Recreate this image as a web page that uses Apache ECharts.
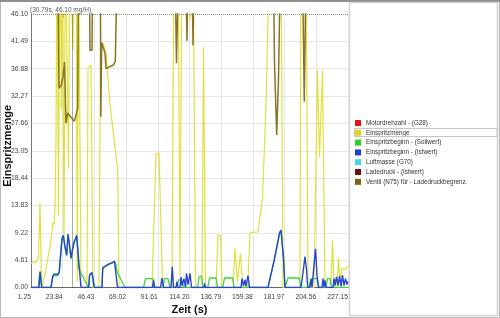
<!DOCTYPE html>
<html><head><meta charset="utf-8">
<script src="https://cdn.jsdelivr.net/npm/echarts/dist/echarts.min.js"></script>
<style>html,body{margin:0;padding:0;background:#fff;}#c{width:500px;height:318px;}</style>
</head><body><div id="c"></div>
<script>
// ---- data (time in s, value) ----
const xTickLabels = ['1.25','23.84','46.43','69.02','91.61','114.20','136.79','159.38','181.97','204.56','227.15'];
const yTickLabels = ['0.00','4.61','9.22','13.83','18.44','23.05','27.66','32.27','36.88','41.49','46.10'];
const legendNames = ['Motordrehzahl - (G28)','Einspritzmenge','Einspritzbeginn - (Sollwert)','Einspritzbeginn - (Istwert)','Luftmasse (G70)','Ladedruck - (Istwert)','Ventil (N75) für - Ladedruckbegrenz.'];
const cursorTime = 30.79;
const cursorValue = 46.10;

const motordrehzahl = [[22.9,47],[23.9,45.4],[24.7,45.9],[25.3,47]];
const einspritzmenge = [[1.25,4.1],[2.68,4.3],[3.39,4.6],[4.46,4.2],[5.53,4.4],[6.59,5.0],[7.66,14.3],[8.73,1.0],[9.44,0.3],[10.16,1.2],[12.65,4.0],[15.5,8.0],[16.93,11.0],[17.64,10.6],[18.35,13.2],[19.07,25],[19.78,60],[20.85,12],[21.92,60],[22.98,30],[23.7,60],[24.77,8],[25.83,60],[26.9,60],[27.97,20],[29.04,60],[30.11,60],[31.18,40],[31.89,60],[33.32,60],[34.24,1],[35.1,60],[35.81,60],[36.88,0],[41.16,0],[41.87,37],[44.01,37.5],[45.43,0],[49.71,0],[50.78,40.5],[52.56,41.2],[54.7,39.6],[57.55,31],[60.4,25],[63.03,20],[63.96,0],[87.47,0],[90.32,22.6],[92.46,22.6],[95.1,0],[101.73,0],[103.15,60],[106.0,60],[107.43,2],[108.86,60],[113.13,60],[114.56,45],[116.7,60],[118.48,0],[123.11,0],[124.18,40.6],[125.6,0],[133.08,0],[134.51,8.8],[136.29,8.8],[137.36,0],[145.2,0],[146.62,6.6],[148.4,1],[150.54,5.75],[152.32,0],[155.67,0],[157.31,9.2],[163.01,9.4],[166.22,15],[168.71,30.8],[171.56,60],[179.4,60],[180.83,0],[192.94,0],[193.65,60],[197.22,60],[198.64,0],[202.92,0],[205.41,36.6],[206.84,22],[208.98,36.6],[210.76,0],[215.03,0],[216.1,8],[217.18,0],[219.31,0],[220.38,5],[221.45,1],[222.88,3.3],[224.3,3.6],[225.37,3.0],[226.44,3.5],[227.15,3.3]];
const beginnSoll = [[1.25,0],[6.59,0],[7.31,2.0],[8.02,2.5],[8.73,0.5],[9.09,0],[15.5,0],[16.57,1.5],[17.64,2.0],[20.28,2.0],[21.42,2.5],[22.13,4.5],[23.34,8.0],[24.27,8.6],[25.48,6.7],[26.69,5.3],[27.62,8.8],[28.54,7.3],[29.75,4.8],[30.97,6.4],[32.1,7.6],[33.82,8.6],[34.53,6.4],[35.1,3.3],[42.08,0],[43.08,2.1],[44.72,2.4],[45.65,2.1],[46.36,0],[51.85,0],[52.35,3.0],[53.27,3.4],[56.12,3.8],[58.97,4.1],[60.75,4.3],[61.82,3.9],[62.54,2.7],[68.24,0],[81.42,0],[82.85,1.5],[88.19,1.5],[89.62,0],[95.32,0],[96.39,1.5],[98.88,1.5],[100.31,0],[105.29,0],[106.36,1.3],[108.86,1.3],[109.93,0],[120.05,0],[120.97,1.8],[122.75,1.9],[123.82,0],[127.17,0],[128.45,1.6],[133.08,1.6],[134.29,0],[137.85,0],[139.14,1.6],[144.84,1.6],[146.12,0],[170.13,0],[171.56,1.5],[174.41,4.3],[176.55,6.8],[178.33,9.0],[179.4,9.5],[180.47,9.5],[181.18,5],[182.25,0],[182.96,0],[184.39,1.6],[192.23,1.6],[193.65,0],[199.35,0],[200.78,1.5],[205.06,1.5],[206.48,0],[211.47,0],[212.54,1.5],[214.33,1.5],[215.4,0],[227.15,0]];
const beginnIst = [[1.25,0],[6.95,0],[7.66,2.7],[8.87,0],[15.5,0],[16.71,1.9],[17.85,2.3],[20.28,2.2],[21.42,2.7],[22.13,5.0],[23.34,8.3],[24.27,8.8],[25.48,6.9],[26.69,5.5],[27.62,9.0],[28.54,7.5],[29.75,5.0],[30.97,6.6],[32.1,7.8],[33.82,8.8],[34.53,6.6],[35.67,3.3],[36.88,0],[42.37,0],[43.08,2.2],[44.72,2.5],[45.65,2.2],[46.36,0],[51.85,0],[52.35,3.3],[53.27,3.6],[56.12,3.9],[58.97,4.2],[60.75,4.4],[61.82,4.1],[62.89,0],[87.83,0],[88.54,1.2],[89.26,0],[93.53,0],[94.6,1.6],[95.67,0],[100.99,0],[101.94,3.5],[102.8,0],[104.58,0],[105.29,1.0],[106.0,0],[107.43,0],[108.14,1.8],[108.86,0.3],[110.28,1.5],[111.35,0],[112.06,2.4],[113.13,0.5],[114.56,2.4],[115.63,0],[124.53,0],[124.89,0.7],[125.6,0],[150.9,0],[151.61,1.5],[152.68,0.3],[153.75,1.3],[154.46,0.2],[155.89,2.0],[156.96,0],[170.13,0],[171.56,1.5],[174.41,4.5],[176.55,7.0],[178.33,9.2],[179.4,9.7],[180.47,9.7],[181.18,5],[182.25,0],[193.65,0],[195.07,2.5],[196.5,5.2],[197.57,3],[198.42,0],[200.06,0],[200.78,1.4],[201.49,0],[202.56,0],[203.98,6.5],[205.06,2],[206.12,0],[208.62,0],[209.33,1.5],[210.05,0],[210.76,1.2],[211.47,0],[216.46,0],[217.18,1.5],[217.89,0.3],[218.96,1.8],[220.03,0.3],[221.09,1.9],[222.16,0.2],[223.23,2.1],[224.3,0.3],[225.37,1.5],[226.44,0.5],[227.15,1.0]];
const luftmasse = [];
const ladedruck = [];
const ventilN75 = [[20.13,60],[21.2,33.6],[22.63,34.0],[24.05,35.5],[25.12,38],[26.19,27.7],[27.4,29.4],[28.54,29.1],[30.47,28.5],[32.1,28.0],[33.32,29.1],[34.53,30.2],[35.24,60],[42.58,60],[43.29,40],[44.72,40],[45.43,60],[50.6,60],[51.0,28.8],[51.6,41.3],[52.8,41.0],[54.0,39.5],[54.7,36.9],[57.05,37.2],[59.9,37.5],[61.33,38.1],[62.32,38.3],[63.1,60],[103.5,60],[104.93,37.8],[106.0,37.8],[106.93,60],[111.0,60],[112.42,41.6],[113.49,60],[115.63,60],[116.7,40.8],[117.76,60],[173.7,60],[174.77,38],[176.34,25.7],[177.62,35],[179.4,60],[194.36,60],[196.0,31.3],[197.57,60]];

// ---- chart ----
const X0 = 1.25, XSTEP = 22.59, YSTEP = 4.61;
const shift = arr => arr.map(p => [+(p[0] - X0).toFixed(3), p[1]]);
const FONT = 'Liberation Sans';
const chart = echarts.init(document.getElementById('c'), null, {renderer: 'canvas'});

function lineSeries(name, data, legendColor, lineColor, width, extra) {
  return Object.assign({
    name, type: 'line', data: shift(data), showSymbol: false, symbol: 'none',
    clip: true, animation: false,
    itemStyle: {color: legendColor},
    lineStyle: {color: lineColor, width: width},
    emphasis: {disabled: true}
  }, extra || {});
}

chart.setOption({
  animation: false,
  backgroundColor: '#fff',
  grid: {left: 31, top: 14, width: 317, height: 273.5, outerBoundsMode: 'none', containLabel: false},
  xAxis: {
    type: 'value', min: 0, max: XSTEP * 10, interval: XSTEP,
    name: 'Zeit (s)', nameLocation: 'middle', nameGap: 17, nameMoveOverlap: false,
    nameTextStyle: {fontFamily: FONT, fontSize: 11, fontWeight: 'bold', color: '#111'},
    axisLine: {show: true, lineStyle: {color: '#666', width: 1}},
    axisTick: {show: false},
    splitLine: {show: true, lineStyle: {color: '#e6e6e6', width: 1}},
    axisLabel: {
      fontFamily: FONT, fontSize: 6.8, color: '#444', align: 'right', margin: 6,
      showMinLabel: true, showMaxLabel: true,
      formatter: v => xTickLabels[Math.round(v / XSTEP)] || ''
    }
  },
  yAxis: {
    type: 'value', min: 0, max: YSTEP * 10, interval: YSTEP,
    name: 'Einspritzmenge', nameLocation: 'middle', nameGap: 18, nameRotate: 90, nameMoveOverlap: false,
    nameTextStyle: {fontFamily: FONT, fontSize: 11, fontWeight: 'bold', color: '#111', padding: [0, 0, 0, 10]},
    axisLine: {show: true, lineStyle: {color: '#777', width: 1}},
    axisTick: {show: false},
    splitLine: {show: true, showMaxLine: false, lineStyle: {color: '#e6e6e6', width: 1}},
    axisLabel: {
      fontFamily: FONT, fontSize: 6.8, color: '#444', margin: 3,
      showMinLabel: true, showMaxLabel: true,
      formatter: v => yTickLabels[Math.round(v / YSTEP)] || ''
    }
  },
  legend: {
    orient: 'vertical', left: 355, top: 119, itemWidth: 6, itemHeight: 6, itemGap: 1.8,
    icon: 'rect', selectedMode: false, padding: 0,
    textStyle: {fontFamily: FONT, fontSize: 6.3, color: '#333', lineHeight: 8},
    data: legendNames
  },
  graphic: [
    {type: 'rect', z: -10, silent: true, shape: {x: 0.5, y: 0.5, width: 499, height: 317}, style: {fill: 'none', stroke: '#b9b9b9', lineWidth: 1}},
    {type: 'line', z: -9, silent: true, shape: {x1: 0, y1: 1, x2: 500, y2: 1}, style: {stroke: '#8f8f8f', lineWidth: 2}},
    {type: 'rect', z: -8, silent: true, shape: {x: 349.5, y: 2.5, width: 148, height: 313}, style: {fill: '#fff', stroke: '#d2d2d2', lineWidth: 1.5}},
    {type: 'rect', z: 10, silent: true, shape: {x: 354.5, y: 128.5, width: 142.5, height: 8}, style: {fill: 'none', stroke: '#c6c6c6', lineWidth: 1}},
    {type: 'text', z: 10, silent: true, left: 30, top: 7, style: {text: '(' + cursorTime.toFixed(2) + 's, ' + cursorValue.toFixed(2) + ' mg/H)', fontFamily: FONT, fontSize: 6.5, fill: '#555'}}
  ],
  series: [
    lineSeries(legendNames[0], motordrehzahl, '#e81515', '#e85a78', 1),
    lineSeries(legendNames[1], einspritzmenge, '#e3d21c', '#e0e040', 1.2),
    lineSeries(legendNames[2], beginnSoll, '#25d425', '#3dd43d', 1.3),
    lineSeries(legendNames[3], beginnIst, '#1d3fd8', '#2645d0', 1.4, {
      markLine: {
        silent: true, symbol: 'none', animation: false, label: {show: false},
        data: [
          {xAxis: cursorTime - X0, lineStyle: {type: 'dotted', color: '#555', width: 1}},
          {yAxis: cursorValue, lineStyle: {type: 'dotted', color: '#8a8a8a', width: 1}}
        ]
      }
    }),
    lineSeries(legendNames[4], luftmasse, '#3fd6e8', '#3fd6e8', 1.2),
    lineSeries(legendNames[5], ladedruck, '#6e1010', '#6e1010', 1.2),
    lineSeries(legendNames[6], ventilN75, '#7a6312', '#8a7326', 1.5)
  ]
});
</script>
</body></html>
